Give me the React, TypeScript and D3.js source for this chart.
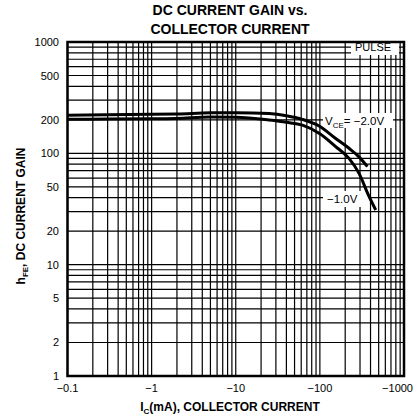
import { useEffect, useRef } from "react";
import * as d3 from "d3";

// collector current magnitudes (mA) and DC gain
const vce2Current = [0.1, 0.3, 1, 2, 5, 10, 25, 40, 62, 98, 154, 222, 292, 367];
const vce2Gain = [220, 222, 224, 226, 231, 232, 228, 218, 202, 176, 136, 111, 93, 76];

const vce1Current = [0.1, 0.3, 1, 2, 5, 10, 25, 40, 62, 100, 154, 222, 292, 384, 461];
const vce1Gain = [202, 203, 204, 206, 212, 211, 199, 190, 179, 150, 115, 90, 66, 41, 31];

const xTicks = [0.1, 1, 10, 100, 1000];
const xTickLabels = ["\u22120.1", "\u22121", "\u221210", "\u2212100", "\u22121000"];
const yTicks = [1, 2, 5, 10, 20, 50, 100, 200, 500, 1000];

const W = 417;
const H = 416;

export default function App() {
  const svgRef = useRef<SVGSVGElement>(null);

  useEffect(() => {
    if (!svgRef.current) return;
    const svg = d3.select(svgRef.current);
    svg.selectAll("*").remove();

    const left = 67.5;
    const right = 404;
    const top = 42;
    const bottom = 376;
    const font = "Liberation Sans, Arial, Helvetica, sans-serif";

    const x = d3.scaleLog().domain([0.1, 1000]).range([left, right]);
    const y = d3.scaleLog().domain([1, 1000]).range([bottom, top]);

    // log grid, 1..9 per decade
    const xGrid: number[] = [];
    for (let e = -1; e < 3; e++) for (let k = 1; k < 10; k++) xGrid.push(k * Math.pow(10, e));
    const yGrid: number[] = [];
    for (let e = 0; e < 3; e++) for (let k = 1; k < 10; k++) yGrid.push(k * Math.pow(10, e));

    const grid = svg.append("g").attr("stroke", "#000").attr("stroke-width", 1.2);
    grid
      .selectAll(".vg")
      .data(xGrid)
      .enter()
      .append("line")
      .attr("x1", (d) => x(d))
      .attr("x2", (d) => x(d))
      .attr("y1", top)
      .attr("y2", bottom);
    grid
      .selectAll(".hg")
      .data(yGrid)
      .enter()
      .append("line")
      .attr("x1", left)
      .attr("x2", right)
      .attr("y1", (d) => y(d))
      .attr("y2", (d) => y(d));

    // white label patches over the grid
    const patches = [
      [351, 43, 48, 12],
      [323, 113, 70, 15],
      [323, 191, 45, 16],
    ];
    svg
      .selectAll(".patch")
      .data(patches)
      .enter()
      .append("rect")
      .attr("x", (d) => d[0])
      .attr("y", (d) => d[1])
      .attr("width", (d) => d[2])
      .attr("height", (d) => d[3])
      .attr("fill", "#fff");

    // curves
    const line = d3
      .line<[number, number]>()
      .x((d) => x(d[0]))
      .y((d) => y(d[1]))
      .curve(d3.curveMonotoneX);

    const series = [
      vce2Current.map((c, i) => [c, vce2Gain[i]] as [number, number]),
      vce1Current.map((c, i) => [c, vce1Gain[i]] as [number, number]),
    ];
    svg
      .selectAll(".curve")
      .data(series)
      .enter()
      .append("path")
      .attr("d", (d) => line(d))
      .attr("fill", "none")
      .attr("stroke", "#000")
      .attr("stroke-width", 3);

    // frame
    svg
      .append("rect")
      .attr("x", left)
      .attr("y", top)
      .attr("width", right - left)
      .attr("height", bottom - top)
      .attr("fill", "none")
      .attr("stroke", "#000")
      .attr("stroke-width", 2.5);

    // tick labels (last one pulled in so it stays on the page)
    svg
      .selectAll(".xt")
      .data(xTicks)
      .enter()
      .append("text")
      .attr("x", (d, i) => (i === xTicks.length - 1 ? 413 : x(d)))
      .attr("y", 392)
      .attr("text-anchor", (d, i) => (i === xTicks.length - 1 ? "end" : "middle"))
      .style("font-family", font)
      .style("font-size", "11px")
      .text((d, i) => xTickLabels[i]);

    svg
      .selectAll(".yt")
      .data(yTicks)
      .enter()
      .append("text")
      .attr("x", 59)
      .attr("y", (d) => y(d) + 4)
      .attr("text-anchor", "end")
      .style("font-family", font)
      .style("font-size", "11px")
      .text((d) => String(d));

    // title
    const title = svg
      .append("text")
      .attr("text-anchor", "middle")
      .style("font-family", font)
      .style("font-size", "14px")
      .style("font-weight", "bold");
    title.append("tspan").attr("x", 230).attr("y", 15).text("DC CURRENT GAIN vs.");
    title.append("tspan").attr("x", 230).attr("y", 34).text("COLLECTOR CURRENT");

    // axis titles
    const xt = svg
      .append("text")
      .attr("x", 230)
      .attr("y", 411)
      .attr("text-anchor", "middle")
      .style("font-family", font)
      .style("font-size", "12px")
      .style("font-weight", "bold");
    xt.append("tspan").text("I");
    xt.append("tspan").attr("dy", 3).style("font-size", "8px").text("C");
    xt.append("tspan").attr("dy", -3).text("(mA), COLLECTOR CURRENT");

    const yt = svg
      .append("text")
      .attr("transform", "translate(25,216) rotate(-90)")
      .attr("text-anchor", "middle")
      .style("font-family", font)
      .style("font-size", "12px")
      .style("font-weight", "bold");
    yt.append("tspan").text("h");
    yt.append("tspan").attr("dy", 3).style("font-size", "8px").text("FE");
    yt.append("tspan").attr("dy", -3).text(", DC CURRENT GAIN");

    // curve labels
    svg
      .append("text")
      .attr("x", 355)
      .attr("y", 51)
      .style("font-family", font)
      .style("font-size", "11px")
      .text("PULSE");

    const v2 = svg
      .append("text")
      .attr("x", 325)
      .attr("y", 125)
      .style("font-family", font)
      .style("font-size", "11.5px");
    v2.append("tspan").text("V");
    v2.append("tspan").attr("dy", 3).style("font-size", "8px").text("CE");
    v2.append("tspan").attr("dy", -3).text("= \u22122.0V");

    svg
      .append("text")
      .attr("x", 327)
      .attr("y", 203)
      .style("font-family", font)
      .style("font-size", "11.5px")
      .text("\u22121.0V");
  }, []);

  return (
    <svg
      ref={svgRef}
      width={W}
      height={H}
      style={{ position: "absolute", left: 0, top: 0, background: "#fff" }}
    />
  );
}
